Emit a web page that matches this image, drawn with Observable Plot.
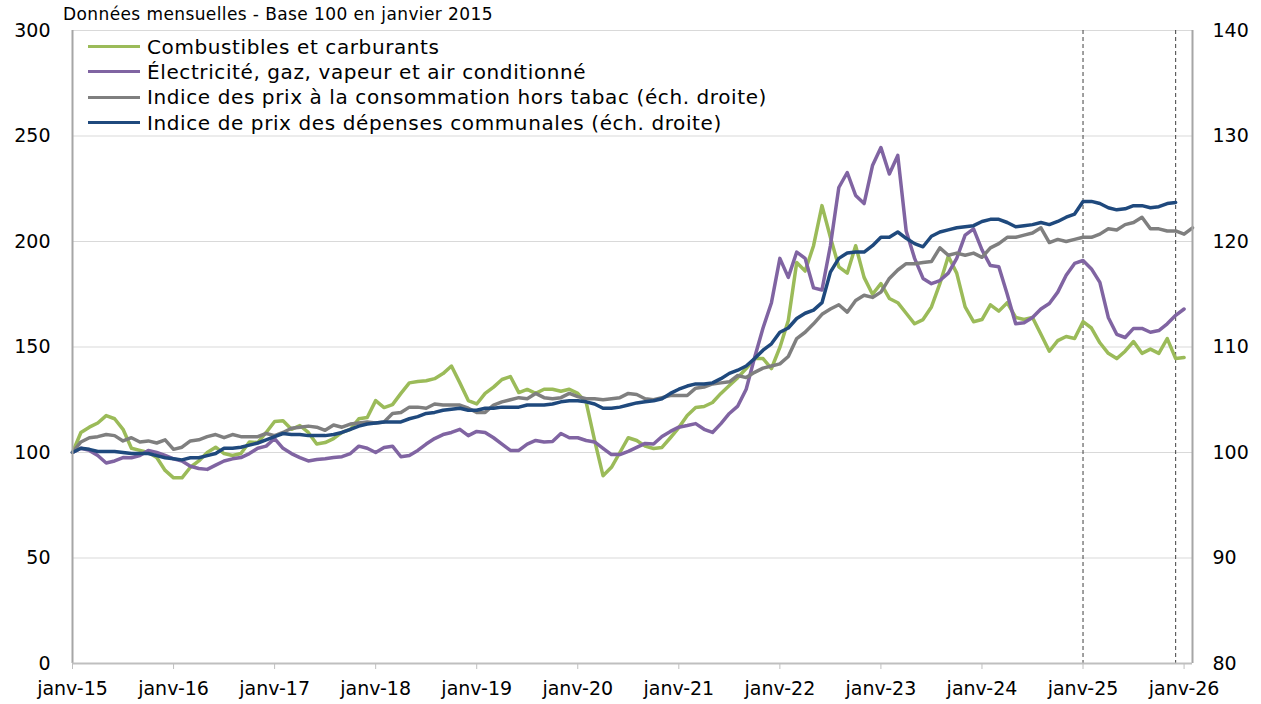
<!DOCTYPE html>
<html><head><meta charset="utf-8">
<script src="https://cdn.jsdelivr.net/npm/d3@7"></script>
<script src="https://cdn.jsdelivr.net/npm/@observablehq/plot@0.6"></script>
<style>
body{margin:0;background:#fff;font-family:"DejaVu Sans",sans-serif;color:#000}
#wrap{position:relative;width:1261px;height:704px}
#title{position:absolute;left:63px;top:4px;font-size:17px;letter-spacing:0.4px;white-space:nowrap}
#legend{position:absolute;left:88px;top:34px;font-size:20px;letter-spacing:0.6px}
.row{display:flex;align-items:center;height:25.3px;white-space:nowrap}
.sw{width:52px;height:3px;margin-right:7px}
</style></head>
<body><div id="wrap"><div id="title"></div><div id="chart"></div><div id="legend"></div></div>
<script>
const title = "Données mensuelles - Base 100 en janvier 2015";
const seriesNames = [
  "Combustibles et carburants",
  "Électricité, gaz, vapeur et air conditionné",
  "Indice des prix à la consommation hors tabac (éch. droite)",
  "Indice de prix des dépenses communales (éch. droite)"
];
const seriesColors = ["#9bbb59", "#8064a2", "#7f7f7f", "#1f497d"];
const startMonth = "2015-01";
const dashedMonths = ["2025-01", "2025-12"];
const leftTicks = [0, 50, 100, 150, 200, 250, 300];
const rightTicks = [80, 90, 100, 110, 120, 130, 140];
const xTickMonths = ["2015-01","2016-01","2017-01","2018-01","2019-01","2020-01","2021-01","2022-01","2023-01","2024-01","2025-01","2026-01"];
const xEndMonth = "2026-02";

// Combustibles et carburants (left scale), monthly from Jan 2015
const combustibles = [
  100, 109.5, 112, 114, 117.5, 116, 111, 102, 101, 100, 97.6, 91.5,
  88, 88, 93, 96, 100, 102.5, 99.5, 98.6, 99.5, 105, 104.7, 109.5,
  114.7, 115, 111, 112.8, 109.5, 104, 104.7, 106.6, 109.5, 111, 116, 116.6,
  124.6, 121.3, 122.7, 128, 133, 133.6, 134, 135, 137.4, 141, 133, 124.6,
  123, 128, 131, 134.6, 136, 128.4, 129.9, 128, 130, 130, 129, 130,
  128, 123.7, 105.7, 89, 93, 100, 107, 105.7, 103, 101.9, 102.4, 107,
  111.8, 117.5, 121.3, 121.8, 123.7, 128, 131.8, 135.5, 139.8, 144.5, 144.5, 139.8,
  149.8, 162.6, 190, 186, 198, 217, 202, 188, 185, 198, 183, 175,
  180, 173, 171, 166, 161, 163, 169, 180, 193, 185, 169, 162,
  163, 170, 167, 171, 164, 163, 164, 156, 148, 153, 155, 154,
  162, 159, 152, 147, 144.5, 148, 152.6, 147, 149, 147, 154, 144.5,
  145
];
// Électricité, gaz, vapeur et air conditionné (left scale)
const electricite = [
  100, 102, 101, 98.6, 95, 96, 97.6, 97.5, 98.6, 101, 100, 98.6,
  97, 96, 93.5, 92.4, 92, 94, 96, 97, 97.6, 99.5, 102, 103,
  106.6, 102, 99.5, 97.6, 96, 96.7, 97, 97.6, 98, 99.5, 103, 102,
  100, 102.4, 103, 98, 98.6, 101, 104, 106.6, 108.5, 109.5, 111, 108,
  110, 109.5, 107, 104, 101, 101, 104, 105.7, 105, 105.2, 109, 107,
  107, 105.7, 105, 102, 99, 99, 100.5, 102.4, 104.3, 104, 107.6, 110,
  112, 112.8, 113.7, 111, 109.5, 113.7, 118.5, 122, 130, 145, 159, 171,
  192, 183, 195, 192, 178, 177, 198, 225.6, 232.7, 221.8, 218, 236,
  244.5, 232, 240.8, 205, 192, 182.5, 180, 181.5, 185, 192, 203, 206,
  196, 188.6, 188, 175, 161, 161.5, 164, 168, 170.6, 176, 184, 189.6,
  191, 187, 180.6, 164, 156, 154.5, 158.8, 158.8, 157, 157.8, 161, 165,
  168
];
// Indice des prix à la consommation hors tabac (right scale)
const ipcHorsTabac = [
  100, 101, 101.4, 101.5, 101.7, 101.6, 101.1, 101.4, 101, 101.1, 100.9, 101.2,
  100.3, 100.5, 101.1, 101.2, 101.5, 101.7, 101.4, 101.7, 101.5, 101.5, 101.5, 101.8,
  101.6, 101.9, 102.3, 102.4, 102.5, 102.4, 102.1, 102.6, 102.4, 102.7, 102.8, 102.9,
  102.8, 102.9, 103.7, 103.8, 104.3, 104.3, 104.2, 104.6, 104.5, 104.5, 104.5, 104.2,
  103.8, 103.8, 104.5, 104.8, 105, 105.2, 105.1, 105.6, 105.2, 105.1, 105.2, 105.6,
  105.3, 105.1, 105.1, 105, 105.1, 105.2, 105.6, 105.5, 105.1, 105, 105.2, 105.4,
  105.4, 105.4, 106.1, 106.2, 106.5, 106.6, 106.7, 107.3, 107.1, 107.6, 108, 108.2,
  108.4, 109.1, 110.8, 111.4, 112.2, 113.1, 113.6, 114, 113.3, 114.4, 114.9, 114.7,
  115.2, 116.5, 117.3, 117.9, 117.9, 118, 118.1, 119.4, 118.7, 118.9, 118.7, 118.9,
  118.5, 119.4, 119.8, 120.4, 120.4, 120.6, 120.8, 121.3, 119.9, 120.2, 120, 120.2,
  120.4, 120.4, 120.7, 121.2, 121.1, 121.6, 121.8, 122.3, 121.2, 121.2, 121, 121,
  120.7, 121.3
];
// Indice de prix des dépenses communales (right scale)
const depensesCommunales = [
  100, 100.4, 100.3, 100.1, 100.1, 100.1, 100, 99.9, 99.9, 99.9, 99.7, 99.5,
  99.4, 99.3, 99.5, 99.5, 99.7, 99.9, 100.4, 100.4, 100.5, 100.7, 100.9, 101.2,
  101.5, 101.8, 101.7, 101.7, 101.6, 101.6, 101.6, 101.7, 101.9, 102.2, 102.5, 102.7,
  102.8, 102.9, 102.9, 102.9, 103.2, 103.4, 103.7, 103.8, 104, 104.1, 104.2, 104,
  104, 104.2, 104.2, 104.3, 104.3, 104.3, 104.5, 104.5, 104.5, 104.6, 104.8, 104.9,
  104.9, 104.8, 104.6, 104.2, 104.2, 104.3, 104.5, 104.7, 104.8, 104.9, 105.1, 105.6,
  106, 106.3, 106.5, 106.5, 106.6, 107, 107.5, 107.8, 108.2, 108.9, 109.7, 110.3,
  111.4, 111.8, 112.7, 113.2, 113.5, 114.2, 117.1, 118.4, 118.9, 119, 119, 119.6,
  120.4, 120.4, 120.9, 120.3, 119.8, 119.5, 120.5, 120.9, 121.1, 121.3, 121.4, 121.5,
  121.9, 122.1, 122.1, 121.8, 121.4, 121.5, 121.6, 121.8, 121.6, 121.9, 122.3, 122.6,
  123.8, 123.8, 123.6, 123.2, 123, 123.1, 123.4, 123.4, 123.2, 123.3, 123.6, 123.7
];

const parseMonth = d3.utcParse("%Y-%m");
const t0 = parseMonth(startMonth);
const idx = s => d3.utcMonth.count(t0, parseMonth(s));
const rightToLeft = v => (v - 80) * 5;   // 80..140 -> 0..300
const leftToRight = v => 80 + v / 5;

const seriesData = [combustibles, electricite, ipcHorsTabac, depensesCommunales];
const seriesRight = [false, false, true, true];
const rows = [];
seriesData.forEach((arr, s) => arr.forEach((v, i) => rows.push({
  s, name: seriesNames[s], i, v: seriesRight[s] ? rightToLeft(v) : v
})));

const fmtTick = d3.utcFormat("%y");
const font = "DejaVu Sans";

const chart = Plot.plot({
  width: 1261, height: 704,
  marginLeft: 72, marginRight: 69, marginTop: 30, marginBottom: 41,
  style: {fontFamily: font, fontSize: "19px", color: "#000", background: "#fff"},
  x: {domain: [0, idx(xEndMonth)], axis: null},
  y: {domain: [0, 300], axis: null},
  marks: [
    Plot.ruleY(leftTicks.slice(1), {stroke: "#d9d9d9", strokeWidth: 1.2}),
    Plot.ruleX(dashedMonths.map(idx), {stroke: "#404040", strokeWidth: 1, strokeDasharray: "4,3"}),
    ...seriesData.map((arr, s) => Plot.line(rows.filter(r => r.s === s), {
      x: "i", y: "v", stroke: seriesColors[s], strokeWidth: 3.5, strokeLinejoin: "round", strokeLinecap: "round"
    })),
    Plot.ruleX([0, idx(xEndMonth)], {stroke: "#a6a6a6", strokeWidth: 2}),
    Plot.ruleY([0], {stroke: "#bfbfbf", strokeWidth: 2}),
    Plot.axisY(leftTicks, {anchor: "left", label: null, tickSize: 0, tickPadding: 22, fontSize: 19}),
    Plot.axisY(rightTicks.map(rightToLeft), {anchor: "right", label: null, tickSize: 0, tickPadding: 20, fontSize: 19,
      tickFormat: d => leftToRight(d)}),
    Plot.axisX(xTickMonths.map(idx), {anchor: "bottom", label: null, tickSize: 6, tickPadding: 12, stroke: "#bfbfbf", fontSize: 19,
      tickFormat: i => "janv-" + fmtTick(d3.utcMonth.offset(t0, i))})
  ]
});
document.getElementById("chart").appendChild(chart);
document.getElementById("title").textContent = title;
const lg = document.getElementById("legend");
seriesNames.forEach((n, s) => {
  const r = document.createElement("div"); r.className = "row";
  const sw = document.createElement("span"); sw.className = "sw"; sw.style.background = seriesColors[s];
  const tx = document.createElement("span"); tx.textContent = n;
  r.appendChild(sw); r.appendChild(tx); lg.appendChild(r);
});
</script></body></html>
